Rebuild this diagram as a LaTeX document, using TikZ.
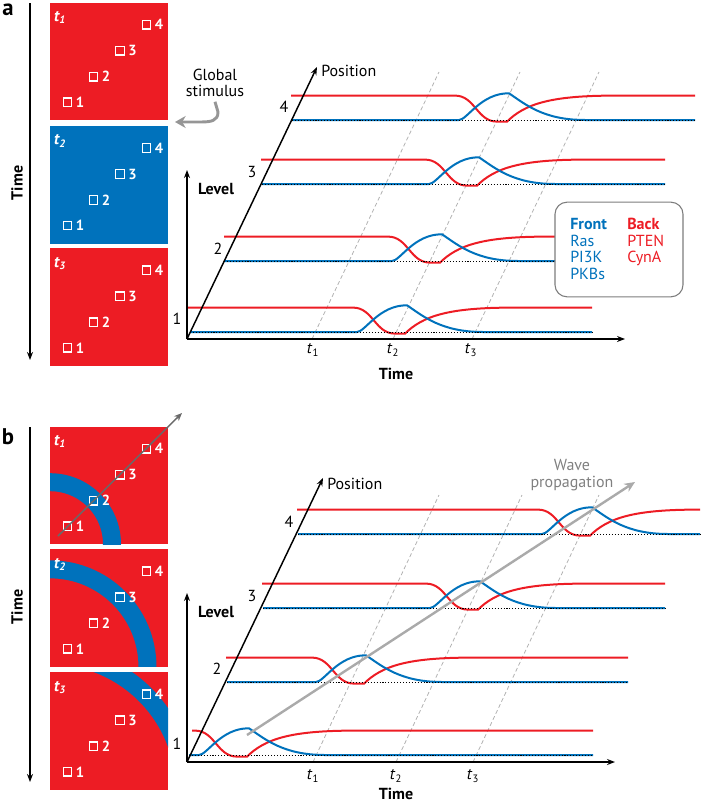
\documentclass[tikz,border=0pt]{standalone}
\usepackage{fontspec}
\setmainfont{PT Sans}
\usetikzlibrary{arrows.meta,positioning}
\definecolor{cellred}{RGB}{237,28,36}
\definecolor{cellblue}{RGB}{0,114,188}
\definecolor{guidegray}{RGB}{178,178,178}
\definecolor{stimgray}{RGB}{150,150,150}
\definecolor{wavegray}{RGB}{170,170,170}
\definecolor{arrowgray}{RGB}{105,105,105}
\definecolor{keygray}{RGB}{125,125,125}

% one cell: red (back) and blue (front) levels around a switch
\newcommand{\levelpair}[5]{% red start, blue start, rest level, switch, end
  \draw[redline] (#1,#3-24.4) -- (#4,#3-24.4)
    .. controls (#4+20,#3-24.4) and (#4+22,#3+1.6) .. (#4+42,#3+1.6) -- (#4+52,#3+1.6)
    .. controls (#4+70,#3-16) and (#4+95,#3-24.4) .. (#4+160,#3-24.4) -- (#5,#3-24.4);
  \draw[blueline] (#2,#3) -- (#4+4,#3)
    .. controls (#4+12,#3) and (#4+26,#3-27) .. (#4+54,#3-26.7)
    .. controls (#4+70,#3-16) and (#4+88,#3) .. (#4+130,#3) -- (#5,#3);
  \draw[rest] (#2,#3) -- (#5,#3);
}
% one snapshot of the cell with four spots
\newcommand{\cellpanel}[5]{% name, top, fill, time index, ring
  \fill[#3] (50,#2) rectangle (168,#2+117.5);
  #5
  \node[tlabel] (#1t) at (60,#2+15) {t\textsubscript{#4}};
  \foreach \k/\dx/\dy in {1/17.5/99.5,2/43.5/74,3/70/48,4/96.5/22}{
    \draw[spot] (50+\dx-4.25,#2+\dy-4.25) rectangle (50+\dx+4.25,#2+\dy+4.25);
    \node[spotnum] (#1n\k) at (50+\dx+12.5,#2+\dy) {\k};
  }
}
\newcommand{\wavering}[2]{%
  \begin{scope}
    \clip (50,#1) rectangle (168,#1+117.5);
    \draw[cellblue,line width=13.5pt] (50,#1+117.5) circle[radius=#2pt];
  \end{scope}
}

\begin{document}
\begin{tikzpicture}[x=0.75pt,y=-0.75pt,
    every node/.style={font=\fontsize{12}{12.4}\selectfont},
    axis/.style={line width=1.1pt,-{Stealth[length=6pt,width=4.5pt]}},
    guide/.style={guidegray,line width=0.6pt,dash pattern=on 3pt off 2pt},
    redline/.style={cellred,line width=1.5pt},
    blueline/.style={cellblue,line width=1.5pt},
    rest/.style={black,line width=0.5pt,dash pattern=on 0.8pt off 1.4pt},
    spot/.style={white,line width=1pt},
    spotnum/.style={text=white,font=\fontsize{11}{11}\selectfont\bfseries},
    tlabel/.style={text=white,font=\fontsize{12}{12}\selectfont\bfseries\itshape},
    panellbl/.style={font=\fontsize{17}{17}\selectfont\bfseries},
    boldlbl/.style={font=\fontsize{12}{12}\selectfont\bfseries}]
  \useasboundingbox (0,0) rectangle (702,803);

  % ---- a: global stimulus
  \node[panellbl] (lblA) at (8,10) {a};
  \draw[axis] (30,3) -- (30,360);
  \node[boldlbl,rotate=90] (timeA) at (17,183) {Time};
  \cellpanel{a1}{2.7}{cellred}{1}{}
  \cellpanel{a2}{126}{cellblue}{2}{}
  \cellpanel{a3}{248.3}{cellred}{3}{}
  \node[align=center] (stim) at (215,83) {Global\\stimulus};
  \draw[stimgray,line width=2.2pt,-{Stealth[length=8pt,width=9pt]}]
    (stim.south) -- (218,112) .. controls (218,121) and (211,122) .. (200,122) -- (175,122);

  \coordinate (oA) at (187,339);
  \coordinate (levA) at (187,170);
  \coordinate (timA) at (625,339);
  \coordinate (posA) at (317,67);
  \foreach \x/\i in {312/1,393/2,472/3}
    \draw[guide] (\x,339) -- ++(127,-267);
  \levelpair{187}{190}{332}{353}{592}
  \levelpair{224}{224}{261}{388}{630}
  \levelpair{261}{262}{184}{425}{665}
  \levelpair{291}{292}{120}{455}{695}
  \draw[axis] (oA) -- (levA);
  \draw[axis] (oA) -- (timA);
  \draw[axis] (oA) -- (posA);
  \node[anchor=west,inner sep=0] (posAtxt) at (321,71) {Position};
  \node[boldlbl] (levAtxt) at (216,189) {Level};
  \node[boldlbl] (timAtxt) at (396,374) {Time};
  \foreach \x/\i in {313/1,393/2,471/3}
    \node (tA\i) at (\x,350) {\textit{t}\textsubscript{\i}};
  \foreach \x/\y/\i in {177/319/1,218/249/2,252/172/3,284/107/4}
    \node (pA\i) at (\x,\y) {\i};
  \node[draw=keygray,fill=white,line width=0.8pt,rounded corners=9pt,
    minimum width=96pt,minimum height=71pt] (key) at (619,249.5) {};
  \node[anchor=north west,inner sep=0,align=left,text=cellblue] (front) at (570,218)
    {\textbf{Front}\\Ras\\PI3K\\PKBs};
  \node[anchor=north west,inner sep=0,align=left,text=cellred] (back) at (627,218)
    {\textbf{Back}\\PTEN\\CynA};

  % ---- b: travelling wave
  \node[panellbl] (lblB) at (8,437) {b};
  \draw[axis] (30,427) -- (30,782);
  \node[boldlbl,rotate=90] (timeB) at (17,607) {Time};
  \cellpanel{b1}{426.7}{cellred}{1}{\wavering{426.7}{46.5}}
  \cellpanel{b2}{549.3}{cellred}{2}{\wavering{549.3}{73.1}}
  \cellpanel{b3}{672.3}{cellred}{3}{\wavering{672.3}{100.9}}
  \coordinate (cellA) at (58,536);
  \coordinate (cellB) at (182,413);
  \draw[arrowgray,line width=1.1pt,-{Stealth[length=6pt,width=5pt]}] (cellA) -- (cellB);

  \coordinate (oB) at (187,762);
  \coordinate (levB) at (187,593);
  \coordinate (timB) at (615,762);
  \coordinate (posB) at (323,478);
  \foreach \x/\i in {313/1,396/2,473/3}
    \draw[guide] (\x,762) -- ++(126,-267);
  \levelpair{192}{189}{755}{195}{593}
  \levelpair{226}{227}{682}{312}{628}
  \levelpair{262}{263}{608}{426}{665}
  \levelpair{297}{298}{534}{538}{700}
  \coordinate (waveS) at (247,735);
  \coordinate (waveE) at (635,482);
  \draw[wavegray,line width=1.8pt,-{Stealth[length=8pt,width=7pt]}] (waveS) -- (waveE);
  \node[align=center,text=gray] (wave) at (572,475) {Wave\\propagation};
  \draw[axis] (oB) -- (levB);
  \draw[axis] (oB) -- (timB);
  \draw[axis] (oB) -- (posB);
  \node[anchor=west,inner sep=0] (posBtxt) at (327,484) {Position};
  \node[boldlbl] (levBtxt) at (216,612) {Level};
  \node[boldlbl] (timBtxt) at (396,794) {Time};
  \foreach \x/\i in {313/1,396/2,473/3}
    \node (tB\i) at (\x,776) {\textit{t}\textsubscript{\i}};
  \foreach \x/\y/\i in {177/744/1,217/669/2,252/596/3,289/522/4}
    \node (pB\i) at (\x,\y) {\i};
\end{tikzpicture}
\end{document}
